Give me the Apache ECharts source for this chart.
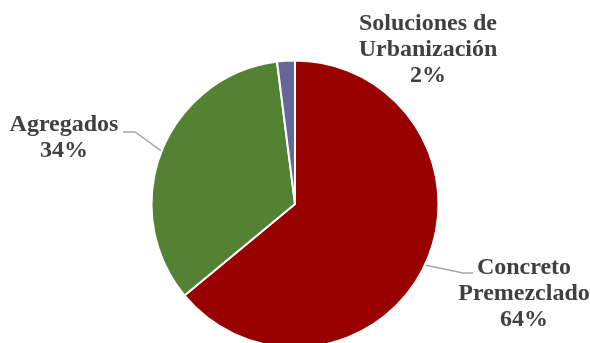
<!DOCTYPE html>
<html>
<head>
<meta charset="utf-8">
<script src="https://cdn.jsdelivr.net/npm/echarts@6/dist/echarts.min.js"></script>
<style>
  html, body { margin: 0; padding: 0; background: #ffffff; }
  #chart { width: 590px; height: 343px; }
</style>
</head>
<body>
<div id="chart"></div>
<script>
// Revenue share by business line
const categories = ['Concreto\nPremezclado', 'Agregados', 'Soluciones de\nUrbanización'];
const shares = [64, 34, 2];
const sliceColors = ['#990000', '#548235', '#666699'];

// Label block centers and leader-line elbows (canvas pixels)
const labelSpots = [
  { x: 524, y: 294, elbow: [[463, 273], [473, 273]] },
  { x: 64, y: 138, elbow: [[135, 132], [123, 132]] },
  { x: 428, y: 50, elbow: null }
];

const chart = echarts.init(document.getElementById('chart'), null, { renderer: 'canvas' });

chart.setOption({
  animation: false,
  backgroundColor: '#ffffff',
  series: [{
    type: 'pie',
    center: [295, 204],
    radius: [0, 143.5],
    startAngle: 90,
    clockwise: true,
    avoidLabelOverlap: false,
    itemStyle: { borderColor: '#ffffff', borderWidth: 2 },
    label: {
      show: true,
      position: 'outside',
      formatter: '{b}\n{d}%',
      fontFamily: '"Liberation Serif", "Times New Roman", serif',
      fontWeight: 'bold',
      fontSize: 24,
      lineHeight: 26,
      color: '#404040',
      align: 'center'
    },
    labelLine: {
      show: true,
      length: 10,
      length2: 10,
      lineStyle: { color: '#a6a6a6', width: 1.5 }
    },
    labelLayout: function (params) {
      const s = labelSpots[params.dataIndex];
      const out = { x: s.x, y: s.y, align: 'center', verticalAlign: 'middle' };
      if (s.elbow && params.labelLinePoints) {
        out.labelLinePoints = [params.labelLinePoints[0]].concat(s.elbow);
      }
      return out;
    },
    data: categories.map(function (name, i) {
      const item = { name: name, value: shares[i], itemStyle: { color: sliceColors[i] } };
      if (i === 2) item.labelLine = { show: false };
      return item;
    })
  }]
});
</script>
</body>
</html>
